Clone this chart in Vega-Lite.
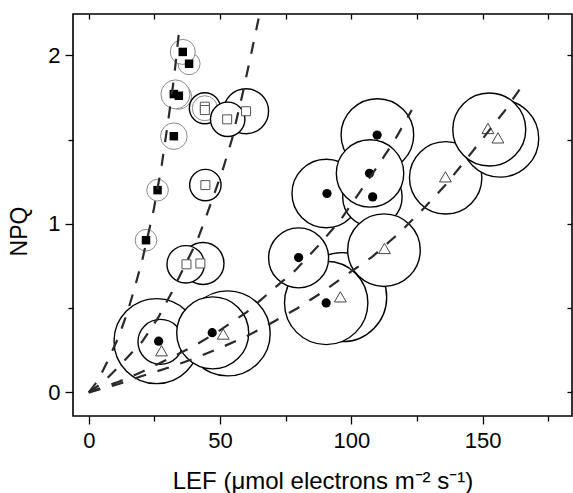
{
  "$schema": "https://vega.github.io/schema/vega-lite/v6.json",
  "width": 499,
  "height": 402,
  "autosize": {"type": "none"},
  "padding": {"left": 73, "top": 14, "right": 1, "bottom": 77},
  "background": "white",
  "config": {
    "view": {"stroke": "black", "strokeWidth": 1.6},
    "font": "Liberation Sans",
    "axis": {"domain": false, "grid": false, "tickColor": "black", "tickWidth": 1.3, "labelColor": "black", "titleColor": "black", "labelFont": "Liberation Sans", "titleFont": "Liberation Sans", "titleFontWeight": "normal"}
  },
  "datasets": {
    "bubbles": [
      {"series": "fs", "lef": 21.8, "npq": 0.903, "spread": 4.11},
      {"series": "fs", "lef": 26.2, "npq": 1.20, "spread": 4.11},
      {"series": "fs", "lef": 32.4, "npq": 1.52, "spread": 5.06},
      {"series": "fs", "lef": 34.2, "npq": 1.757, "spread": 4.95},
      {"series": "fs", "lef": 33.0, "npq": 1.768, "spread": 5.52},
      {"series": "fs", "lef": 38.2, "npq": 1.95, "spread": 4.19},
      {"series": "fs", "lef": 35.8, "npq": 2.02, "spread": 4.76},
      {"series": "os", "lef": 59.9, "npq": 1.668, "spread": 8.56},
      {"series": "os", "lef": 44.2, "npq": 1.686, "spread": 5.90},
      {"series": "fs", "lef": 44.2, "npq": 1.686, "spread": 4.76},
      {"series": "os", "lef": 52.9, "npq": 1.62, "spread": 6.55},
      {"series": "os", "lef": 44.4, "npq": 1.23, "spread": 5.98},
      {"series": "os", "lef": 43.5, "npq": 0.765, "spread": 7.99},
      {"series": "os", "lef": 36.9, "npq": 0.76, "spread": 7.12},
      {"series": "fc", "lef": 25.8, "npq": 0.304, "spread": 16.18},
      {"series": "ot", "lef": 27.3, "npq": 0.30, "spread": 8.56},
      {"series": "ot", "lef": 52.9, "npq": 0.35, "spread": 16.18},
      {"series": "fc", "lef": 47.2, "npq": 0.353, "spread": 13.70},
      {"series": "ot", "lef": 96.5, "npq": 0.565, "spread": 16.94},
      {"series": "fc", "lef": 90.4, "npq": 0.531, "spread": 15.87},
      {"series": "fc", "lef": 79.9, "npq": 0.798, "spread": 11.42},
      {"series": "fc", "lef": 90.4, "npq": 1.18, "spread": 13.02},
      {"series": "fc", "lef": 109.9, "npq": 1.527, "spread": 13.82},
      {"series": "fc", "lef": 108.0, "npq": 1.16, "spread": 11.31},
      {"series": "ot", "lef": 112.4, "npq": 0.844, "spread": 13.82},
      {"series": "fc", "lef": 107.1, "npq": 1.299, "spread": 12.83},
      {"series": "ot", "lef": 135.9, "npq": 1.273, "spread": 13.78},
      {"series": "ot", "lef": 156.6, "npq": 1.507, "spread": 14.73},
      {"series": "ot", "lef": 152.5, "npq": 1.56, "spread": 13.89}
    ],
    "markers": [
      {"series": "fs", "lef": 35.8, "npq": 2.02},
      {"series": "fs", "lef": 38.2, "npq": 1.95},
      {"series": "fs", "lef": 32.4, "npq": 1.77},
      {"series": "fs", "lef": 34.3, "npq": 1.76},
      {"series": "fs", "lef": 32.4, "npq": 1.52},
      {"series": "fs", "lef": 26.2, "npq": 1.20},
      {"series": "fs", "lef": 21.8, "npq": 0.903},
      {"series": "os", "lef": 44.2, "npq": 1.695},
      {"series": "os", "lef": 44.2, "npq": 1.675},
      {"series": "os", "lef": 52.7, "npq": 1.62},
      {"series": "os", "lef": 59.9, "npq": 1.668},
      {"series": "os", "lef": 44.4, "npq": 1.23},
      {"series": "os", "lef": 37.2, "npq": 0.76},
      {"series": "os", "lef": 42.5, "npq": 0.765},
      {"series": "fc", "lef": 26.6, "npq": 0.304},
      {"series": "fc", "lef": 47.0, "npq": 0.354},
      {"series": "fc", "lef": 79.9, "npq": 0.80},
      {"series": "fc", "lef": 90.4, "npq": 0.531},
      {"series": "fc", "lef": 90.7, "npq": 1.18},
      {"series": "fc", "lef": 106.9, "npq": 1.30},
      {"series": "fc", "lef": 108.1, "npq": 1.16},
      {"series": "fc", "lef": 109.8, "npq": 1.527},
      {"series": "ot", "lef": 27.7, "npq": 0.247},
      {"series": "ot", "lef": 51.2, "npq": 0.346},
      {"series": "ot", "lef": 95.8, "npq": 0.567},
      {"series": "ot", "lef": 112.6, "npq": 0.854},
      {"series": "ot", "lef": 135.8, "npq": 1.279},
      {"series": "ot", "lef": 152.0, "npq": 1.566},
      {"series": "ot", "lef": 155.8, "npq": 1.51}
    ],
    "curves": [
      {"curve": "fs", "lef": 0, "npq": 0},
      {"curve": "fs", "lef": 3.5, "npq": 0.07},
      {"curve": "fs", "lef": 7, "npq": 0.18},
      {"curve": "fs", "lef": 11.4, "npq": 0.33},
      {"curve": "fs", "lef": 14.6, "npq": 0.47},
      {"curve": "fs", "lef": 17.1, "npq": 0.60},
      {"curve": "fs", "lef": 20.3, "npq": 0.78},
      {"curve": "fs", "lef": 24.7, "npq": 1.08},
      {"curve": "fs", "lef": 27.8, "npq": 1.35},
      {"curve": "fs", "lef": 30.5, "npq": 1.64},
      {"curve": "fs", "lef": 32.5, "npq": 1.87},
      {"curve": "fs", "lef": 34.3, "npq": 2.13},
      {"curve": "os", "lef": 0, "npq": 0},
      {"curve": "os", "lef": 5.5, "npq": 0.06},
      {"curve": "os", "lef": 11.4, "npq": 0.152},
      {"curve": "os", "lef": 20.3, "npq": 0.30},
      {"curve": "os", "lef": 26.6, "npq": 0.448},
      {"curve": "os", "lef": 31.7, "npq": 0.597},
      {"curve": "os", "lef": 36.5, "npq": 0.75},
      {"curve": "os", "lef": 41.3, "npq": 0.90},
      {"curve": "os", "lef": 44.4, "npq": 1.03},
      {"curve": "os", "lef": 47.6, "npq": 1.17},
      {"curve": "os", "lef": 51.2, "npq": 1.33},
      {"curve": "os", "lef": 54.5, "npq": 1.50},
      {"curve": "os", "lef": 58.4, "npq": 1.76},
      {"curve": "os", "lef": 62.0, "npq": 2.02},
      {"curve": "os", "lef": 64.7, "npq": 2.22},
      {"curve": "fc", "lef": 0, "npq": 0},
      {"curve": "fc", "lef": 11.4, "npq": 0.063},
      {"curve": "fc", "lef": 20.3, "npq": 0.122},
      {"curve": "fc", "lef": 30.5, "npq": 0.20},
      {"curve": "fc", "lef": 39.4, "npq": 0.27},
      {"curve": "fc", "lef": 48.2, "npq": 0.35},
      {"curve": "fc", "lef": 60.3, "npq": 0.478},
      {"curve": "fc", "lef": 69.8, "npq": 0.607},
      {"curve": "fc", "lef": 78.7, "npq": 0.725},
      {"curve": "fc", "lef": 88.2, "npq": 0.884},
      {"curve": "fc", "lef": 95.8, "npq": 1.022},
      {"curve": "fc", "lef": 102.8, "npq": 1.18},
      {"curve": "fc", "lef": 109.8, "npq": 1.338},
      {"curve": "fc", "lef": 116.1, "npq": 1.486},
      {"curve": "fc", "lef": 123.0, "npq": 1.675},
      {"curve": "ot", "lef": 0, "npq": 0},
      {"curve": "ot", "lef": 11.4, "npq": 0.05},
      {"curve": "ot", "lef": 20.3, "npq": 0.097},
      {"curve": "ot", "lef": 30.5, "npq": 0.148},
      {"curve": "ot", "lef": 40, "npq": 0.20},
      {"curve": "ot", "lef": 49.5, "npq": 0.26},
      {"curve": "ot", "lef": 59.7, "npq": 0.33},
      {"curve": "ot", "lef": 69.2, "npq": 0.409},
      {"curve": "ot", "lef": 79.3, "npq": 0.498},
      {"curve": "ot", "lef": 88.2, "npq": 0.587},
      {"curve": "ot", "lef": 97.1, "npq": 0.686},
      {"curve": "ot", "lef": 107.9, "npq": 0.804},
      {"curve": "ot", "lef": 118.0, "npq": 0.943},
      {"curve": "ot", "lef": 127.5, "npq": 1.091},
      {"curve": "ot", "lef": 135.8, "npq": 1.23},
      {"curve": "ot", "lef": 144.0, "npq": 1.388},
      {"curve": "ot", "lef": 158.6, "npq": 1.675},
      {"curve": "ot", "lef": 165.5, "npq": 1.83}
    ]
  },
  "layer": [
    {
      "data": {"name": "bubbles"},
      "mark": {"type": "point", "shape": "circle", "filled": true, "fill": "white", "fillOpacity": 1, "opacity": 1, "strokeOpacity": 1},
      "encoding": {
        "x": {"field": "lef", "type": "quantitative", "scale": {"domain": [-6, 184], "nice": false, "zero": false},
          "axis": {"orient": "bottom", "values": [0, 50, 100, 150], "tickSize": 8, "labelFontSize": 22, "labelPadding": 6, "title": "LEF (μmol electrons m⁻² s⁻¹)", "titleFontSize": 24, "titleBaseline": "alphabetic", "titleY": 72}},
        "y": {"field": "npq", "type": "quantitative", "scale": {"domain": [-0.14, 2.245], "nice": false, "zero": false},
          "axis": {"orient": "left", "values": [0, 1, 2], "tickSize": 8, "labelFontSize": 22, "labelPadding": 5, "title": "NPQ", "titleFontSize": 23, "titleBaseline": "alphabetic", "titleAngle": -90, "titleX": -47, "titleY": 217}},
        "size": {"field": "spread", "type": "quantitative", "scale": {"type": "pow", "exponent": 2, "domain": [0, 20], "range": [0, 11040]}, "legend": null},
        "stroke": {"condition": {"test": "datum.series === 'fs'", "value": "#8a8a8a"}, "value": "black"},
        "strokeWidth": {"condition": {"test": "datum.series === 'fs'", "value": 1.0}, "value": 1.4}
      }
    },
    {
      "data": {"name": "markers"},
      "transform": [{"filter": "datum.series === 'fs'"}],
      "mark": {"type": "point", "shape": "square", "filled": true, "color": "black", "size": 72, "opacity": 1},
      "encoding": {
        "x": {"field": "lef", "type": "quantitative", "scale": {"domain": [-6, 184], "nice": false, "zero": false},
          "axis": {"orient": "top", "values": [0, 25, 50, 75, 100, 125, 150, 175], "tickSize": -5, "labels": false, "title": null}},
        "y": {"field": "npq", "type": "quantitative", "scale": {"domain": [-0.14, 2.245], "nice": false, "zero": false},
          "axis": {"orient": "right", "values": [0, 0.5, 1, 1.5, 2], "tickSize": -5, "labels": false, "title": null}}
      }
    },
    {
      "data": {"name": "markers"},
      "transform": [{"filter": "datum.series === 'os'"}],
      "mark": {"type": "point", "shape": "square", "filled": true, "fill": "white", "stroke": "#555555", "strokeWidth": 1, "size": 81, "opacity": 1},
      "encoding": {
        "x": {"field": "lef", "type": "quantitative", "scale": {"domain": [-6, 184], "nice": false, "zero": false}, "axis": null},
        "y": {"field": "npq", "type": "quantitative", "scale": {"domain": [-0.14, 2.245], "nice": false, "zero": false}, "axis": null}
      }
    },
    {
      "data": {"name": "markers"},
      "transform": [{"filter": "datum.series === 'fc'"}],
      "mark": {"type": "point", "shape": "circle", "filled": true, "color": "black", "size": 85, "opacity": 1},
      "encoding": {
        "x": {"field": "lef", "type": "quantitative", "scale": {"domain": [-6, 184], "nice": false, "zero": false}, "axis": null},
        "y": {"field": "npq", "type": "quantitative", "scale": {"domain": [-0.14, 2.245], "nice": false, "zero": false}, "axis": null}
      }
    },
    {
      "data": {"name": "markers"},
      "transform": [{"filter": "datum.series === 'ot'"}],
      "mark": {"type": "point", "shape": "triangle-up", "filled": true, "fill": "white", "stroke": "#444444", "strokeWidth": 1, "size": 140, "opacity": 1},
      "encoding": {
        "x": {"field": "lef", "type": "quantitative", "scale": {"domain": [-6, 184], "nice": false, "zero": false}, "axis": null},
        "y": {"field": "npq", "type": "quantitative", "scale": {"domain": [-0.14, 2.245], "nice": false, "zero": false}, "axis": null}
      }
    },
    {
      "data": {"name": "curves"},
      "mark": {"type": "line", "strokeDash": [12, 12], "strokeWidth": 2.2, "color": "#2a2a2a", "clip": true},
      "encoding": {
        "x": {"field": "lef", "type": "quantitative", "scale": {"domain": [-6, 184], "nice": false, "zero": false},
          "axis": {"orient": "bottom", "values": [25, 75, 125, 175], "tickSize": 5, "labels": false, "title": null}},
        "y": {"field": "npq", "type": "quantitative", "scale": {"domain": [-0.14, 2.245], "nice": false, "zero": false},
          "axis": {"orient": "left", "values": [0.5, 1.5], "tickSize": 5, "labels": false, "title": null}},
        "detail": {"field": "curve", "type": "nominal"}
      }
    }
  ],
  "resolve": {"axis": {"x": "independent", "y": "independent"}}
}
